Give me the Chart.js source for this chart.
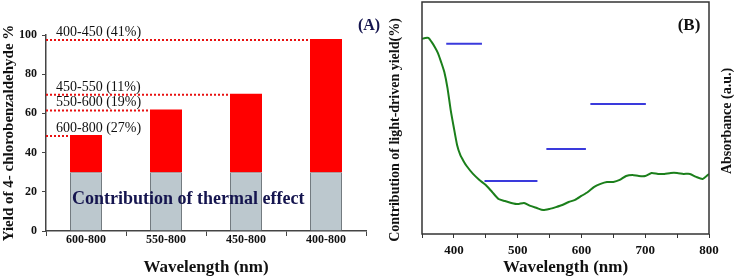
<!DOCTYPE html>
<html>
<head>
<meta charset="utf-8">
<script src="https://cdn.jsdelivr.net/npm/chart.js@4.4.1/dist/chart.umd.min.js"></script>
<style>
  html, body { margin: 0; padding: 0; background: #fff; }
  #wrap { position: relative; width: 734px; height: 278px; overflow: hidden; }
  #chartA { position: absolute; left: 0; top: 0; }
  #chartB { position: absolute; left: 370px; top: 0; }
</style>
</head>
<body>
<div id="wrap">
  <canvas id="chartA" width="380" height="278"></canvas>
  <canvas id="chartB" width="364" height="278"></canvas>
</div>
<script>
// Panel A: yield per wavelength range
const ranges = ['600-800', '550-800', '450-800', '400-800'];
const thermalYield = [30, 30, 30, 30];
const lightYield = [19, 32, 40, 68];
const bandLabels = ['600-800 (27%)', '550-600 (19%)', '450-550 (11%)', '400-450 (41%)'];
const yTicks = [0, 20, 40, 60, 80, 100];

// Panel B: absorbance spectrum + light-driven contribution per band
const wavelengths = [350, 355, 360, 365, 370, 375, 380, 385, 390, 395, 400, 405, 410, 415, 420,
  430, 440, 450, 460, 470, 480, 490, 500, 510, 520, 530, 540, 550, 560, 570, 580, 590, 600,
  610, 620, 630, 640, 650, 660, 670, 680, 690, 700, 710, 720, 730, 740, 750, 760, 770, 780, 790, 800];
const absorbance = [0.841, 0.845, 0.845, 0.828, 0.806, 0.780, 0.741, 0.698, 0.629, 0.534, 0.457, 0.384, 0.341, 0.315, 0.293,
  0.259, 0.233, 0.211, 0.181, 0.151, 0.142, 0.134, 0.129, 0.134, 0.121, 0.112, 0.103, 0.108, 0.116, 0.125, 0.138, 0.147, 0.164,
  0.181, 0.203, 0.216, 0.224, 0.224, 0.233, 0.250, 0.254, 0.250, 0.250, 0.263, 0.259, 0.259, 0.263, 0.263, 0.259, 0.259, 0.246, 0.237, 0.259];
const bandStart = [388, 448, 545, 614];
const bandEnd = [444, 531, 607, 701];
const bandYield = [41, 11.4, 18.3, 28];

const serif = '"Liberation Serif", "Times New Roman", serif';
const ink = '#111';

// dotted guide lines + range labels + thermal caption
const annotateA = {
  id: 'annotateA',
  afterDatasetsDraw(chart) {
    const ctx = chart.ctx;
    const area = chart.chartArea;
    const meta = chart.getDatasetMeta(1);
    ctx.save();
    meta.data.forEach((bar, i) => {
      const xEnd = bar.x - bar.width / 2;
      ctx.strokeStyle = '#e81010';
      ctx.lineWidth = 2;
      ctx.setLineDash([2, 2]);
      ctx.beginPath();
      ctx.moveTo(area.left, bar.y + 1);
      ctx.lineTo(xEnd, bar.y + 1);
      ctx.stroke();
      ctx.setLineDash([]);
      ctx.fillStyle = ink;
      ctx.font = '14px ' + serif;
      ctx.textAlign = 'left';
      ctx.textBaseline = 'alphabetic';
      ctx.fillText(bandLabels[i], area.left + 10, bar.y - 3);
    });
    const first = chart.getDatasetMeta(0).data[0];
    ctx.fillStyle = '#15154f';
    ctx.font = 'bold 18px ' + serif;
    ctx.fillText('Contribution of thermal effect', first.x - first.width / 2 + 2, chart.scales.y.getPixelForValue(14));
    ctx.font = 'bold 16px ' + serif;
    ctx.textAlign = 'center';
    ctx.fillText('(A)', 369, 30);
    ctx.restore();
  }
};

new Chart(document.getElementById('chartA'), {
  type: 'bar',
  data: {
    labels: ranges,
    datasets: [
      { label: 'Thermal', data: thermalYield, backgroundColor: '#bcc8ce', borderColor: '#737b80', borderWidth: 1 },
      { label: 'Light', data: lightYield, backgroundColor: '#ff0000', borderWidth: 0 }
    ]
  },
  options: {
    responsive: false,
    animation: false,
    layout: { padding: { top: 35, right: 14, left: 0, bottom: 0 } },
    plugins: { legend: { display: false }, tooltip: { enabled: false } },
    datasets: { bar: { categoryPercentage: 1, barPercentage: 0.4 } },
    scales: {
      x: {
        stacked: true,
        grid: { drawOnChartArea: false, tickLength: 5, color: '#444', offset: true },
        border: { color: '#444', width: 1.5 },
        ticks: { color: ink, font: { family: serif, weight: 'bold', size: 12 }, padding: -3 },
        title: { display: true, text: 'Wavelength (nm)', color: ink, font: { family: serif, weight: 'bold', size: 17 }, padding: 0 },
        afterFit(s) { s.height = 47; }
      },
      y: {
        stacked: true,
        min: 0,
        max: 100,
        afterBuildTicks(s) { s.ticks = yTicks.map(v => ({ value: v })); },
        grid: { drawOnChartArea: false, tickLength: 4, color: '#444' },
        border: { color: '#444', width: 1.5 },
        ticks: { color: ink, font: { family: serif, weight: 'bold', size: 12 }, padding: 5 },
        title: { display: true, text: 'Yield of 4- chlorobenzaldehyde %', color: ink, font: { family: serif, weight: 'bold', size: 15 }, padding: 0 },
        afterFit(s) { s.width = 46; }
      }
    }
  },
  plugins: [annotateA]
});

// frame, panel tag and the two vertical titles of panel B
const frameB = {
  id: 'frameB',
  afterDraw(chart) {
    const ctx = chart.ctx;
    const a = chart.chartArea;
    ctx.save();
    ctx.strokeStyle = '#333';
    ctx.lineWidth = 1.5;
    ctx.strokeRect(a.left, a.top, a.right - a.left, a.bottom - a.top);
    ctx.fillStyle = ink;
    ctx.textAlign = 'center';
    ctx.textBaseline = 'middle';
    ctx.font = 'bold 17px ' + serif;
    ctx.fillText('(B)', 319, 26);
    ctx.font = 'bold 14px ' + serif;
    ctx.translate(25, 130);
    ctx.rotate(-Math.PI / 2);
    ctx.fillText('Contribution of light-driven yield(%)', 0, 0);
    ctx.rotate(Math.PI / 2);
    ctx.translate(-25, -130);
    ctx.translate(357, 121);
    ctx.rotate(-Math.PI / 2);
    ctx.fillText('Absorbance (a.u.)', 0, 0);
    ctx.restore();
  }
};

const bandSets = bandStart.map((s, i) => ({
  label: 'band' + i,
  data: [{ x: s, y: bandYield[i] }, { x: bandEnd[i], y: bandYield[i] }],
  borderColor: '#3a3adc',
  borderWidth: 2,
  pointRadius: 0,
  yAxisID: 'y'
}));

new Chart(document.getElementById('chartB'), {
  type: 'line',
  data: {
    datasets: [
      ...bandSets,
      {
        label: 'Absorbance',
        data: wavelengths.map((w, i) => ({ x: w, y: absorbance[i] })),
        borderColor: '#1b7f1b',
        borderWidth: 2,
        pointRadius: 0,
        tension: 0.2,
        yAxisID: 'y1'
      }
    ]
  },
  options: {
    responsive: false,
    animation: false,
    layout: { padding: { top: 2, right: 0, left: 0, bottom: 0 } },
    plugins: { legend: { display: false }, tooltip: { enabled: false } },
    scales: {
      x: {
        type: 'linear',
        min: 350,
        max: 800,
        ticks: {
          stepSize: 50,
          color: ink,
          font: { family: serif, weight: 'bold', size: 13 },
          padding: 5,
          maxRotation: 0,
          callback: v => (v % 100 === 0 ? v : '')
        },
        grid: { drawOnChartArea: false, tickLength: 4, color: '#333' },
        border: { display: false },
        title: { display: true, text: 'Wavelength (nm)', color: ink, font: { family: serif, weight: 'bold', size: 17 }, padding: 0 },
        afterFit(s) { s.height = 44; }
      },
      y: {
        position: 'left',
        min: 0,
        max: 50,
        ticks: { display: false },
        grid: { display: false },
        border: { display: false },
        afterFit(s) { s.width = 52; }
      },
      y1: {
        position: 'right',
        min: 0,
        max: 1,
        ticks: { display: false },
        grid: { display: false },
        border: { display: false },
        afterFit(s) { s.width = 25; }
      }
    }
  },
  plugins: [frameB]
});
</script>
</body>
</html>
